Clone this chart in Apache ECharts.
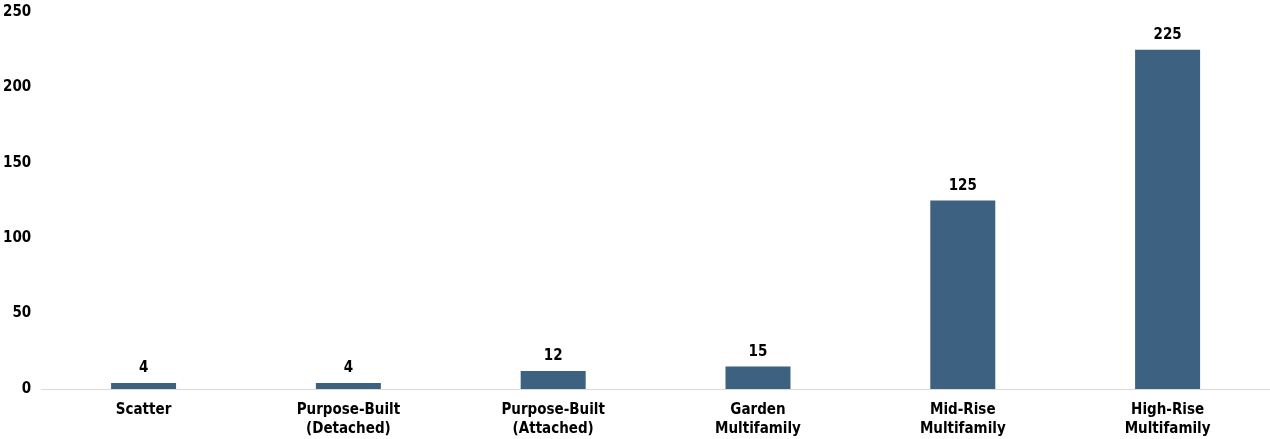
<!DOCTYPE html>
<html><head><meta charset="utf-8">
<script src="https://cdn.jsdelivr.net/npm/echarts@6/dist/echarts.min.js"></script>
<style>html,body{margin:0;padding:0;background:#fff}#c{width:1270px;height:439px}</style>
</head><body><div id="c"></div>
<script>
const categories = ["Scatter", "Purpose-Built\n(Detached)", "Purpose-Built\n(Attached)", "Garden\nMultifamily", "Mid-Rise\nMultifamily", "High-Rise\nMultifamily"];
const values = [4, 4, 12, 15, 125, 225];
const yTicks = { min: 0, max: 250, interval: 50 };
const FONT = '"Liberation Sans Narrow", "DejaVu Sans Condensed", sans-serif';
const chart = echarts.init(document.getElementById('c'));
chart.setOption({
  animation: false,
  grid: { left: 40, right: 0, top: 12, bottom: 49 },
  xAxis: {
    type: 'category', data: categories,
    axisLine: { lineStyle: { color: '#d9d9d9', width: 1 } },
    axisTick: { show: false },
    axisLabel: { color: '#000', fontFamily: FONT, fontWeight: 'bold', fontSize: 15, lineHeight: 19, margin: 12, interval: 0 }
  },
  yAxis: {
    type: 'value', min: yTicks.min, max: yTicks.max, interval: yTicks.interval,
    splitLine: { show: false }, axisLine: { show: false }, axisTick: { show: false },
    axisLabel: { color: '#000', fontFamily: FONT, fontWeight: 'bold', fontSize: 15, margin: 10 }
  },
  series: [{
    type: 'bar', data: values, barWidth: 65,
    itemStyle: { color: '#3d6180' },
    label: { show: true, position: 'top', distance: 7, color: '#000', fontFamily: FONT, fontWeight: 'bold', fontSize: 15 }
  }]
});
</script></body></html>
